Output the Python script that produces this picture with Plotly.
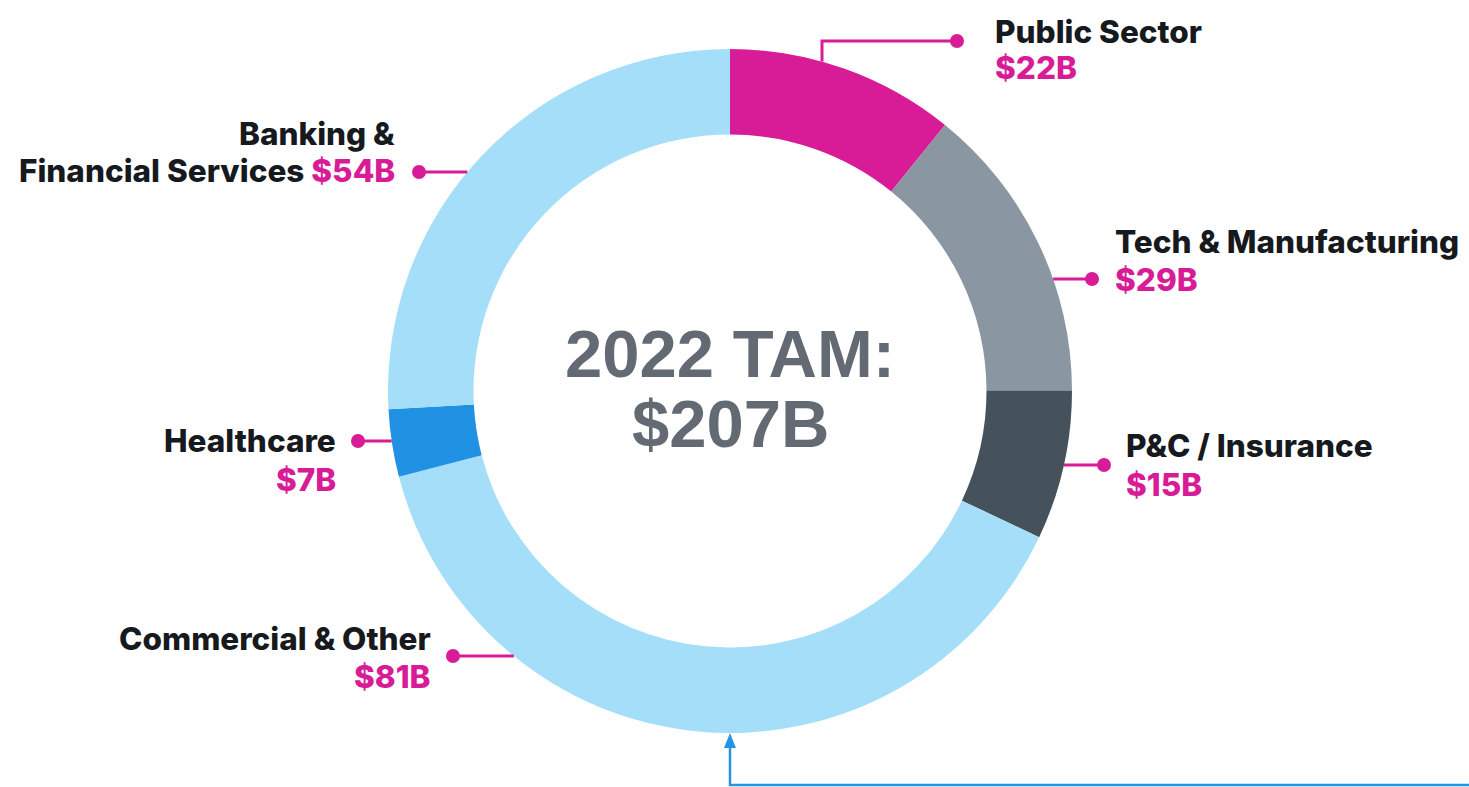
import plotly.graph_objects as go
import math

# ---- data ----
segments = ["Public Sector", "Tech & Manufacturing", "P&C / Insurance",
            "Commercial & Other", "Healthcare", "Banking & Financial Services"]
values = [22.4, 29.3, 14.6, 80.6, 6.6, 53.5]   # $B (slice sizes)
value_labels = ["$22B", "$29B", "$15B", "$81B", "$7B", "$54B"]
colors = ["#D81B96", "#8A96A2", "#46525B", "#A4DEF9", "#2191E3", "#A4DEF9"]
center_title = "2022 TAM:"
center_value = "$207B"

W, H = 1469, 787
MAGENTA = "#D81B96"
TEXT = "#16191D"
CENTER = "#646A73"
BLUE = "#2594E3"
FS = 31.5
LABEL_FONT = dict(family="Inter, Roboto, sans-serif", size=FS, color=TEXT, weight=800)
VALUE_FONT = dict(family="Inter, Roboto, sans-serif", size=FS, color=MAGENTA, weight=800)

# donut geometry (pixels)
CX, CY, R = 730, 391, 342
HOLE = 0.75

def px(x):
    return x / W

def py(y):
    return 1 - y / H

fig = go.Figure()
fig.add_trace(go.Pie(
    labels=segments, values=values, sort=False, direction="clockwise",
    rotation=0, hole=HOLE, textinfo="none", hoverinfo="label+value",
    marker=dict(colors=colors, line=dict(width=0)),
    domain=dict(x=[px(CX - R), px(CX + R)], y=[py(CY + R), py(CY - R)]),
    showlegend=False,
))

shapes = []
annotations = []

def ring_x(y, side):
    return CX + side * math.sqrt(R * R - (y - CY) ** 2)

def dot(x, y, r=7):
    shapes.append(dict(type="circle", xref="paper", yref="paper",
                       x0=px(x - r), x1=px(x + r), y0=py(y + r), y1=py(y - r),
                       fillcolor=MAGENTA, line=dict(width=0)))

def hline(x0, x1, y):
    shapes.append(dict(type="line", xref="paper", yref="paper",
                       x0=px(x0), x1=px(x1), y0=py(y), y1=py(y),
                       line=dict(color=MAGENTA, width=3)))

def line_text(x, baseline, text, align, font):
    annotations.append(dict(
        xref="paper", yref="paper", x=px(x), y=py(baseline - 0.37 * FS),
        xanchor="left" if align == "left" else "right", yanchor="middle",
        align=align, showarrow=False, text=text, font=font,
    ))

def label(x, b1, b2, name, val, align):
    line_text(x, b1, name, align, LABEL_FONT)
    line_text(x, b2, val, align, VALUE_FONT)

# Public Sector (elbow leader)
xv = 822
yedge = CY - math.sqrt(R * R - (xv - CX) ** 2)
shapes.append(dict(type="path", xref="paper", yref="paper",
                   path="M %f,%f L %f,%f L %f,%f" % (px(xv), py(yedge), px(xv), py(41), px(957), py(41)),
                   line=dict(color=MAGENTA, width=3)))
dot(957, 41)
label(993, 43, 79, segments[0], value_labels[0], "left")

# Tech & Manufacturing
hline(ring_x(279, 1), 1092, 279)
dot(1092, 279)
label(1113, 253, 291, segments[1], value_labels[1], "left")

# P&C / Insurance
hline(ring_x(465, 1), 1104, 465)
dot(1104, 465)
label(1124, 457, 496, segments[2], value_labels[2], "left")

# Commercial & Other
hline(453, ring_x(656, -1), 656)
dot(453, 656)
label(433, 650, 688, segments[3], value_labels[3], "right")

# Healthcare
hline(358, ring_x(441, -1), 441)
dot(358, 441)
label(338, 452, 491, segments[4], value_labels[4], "right")

# Banking & Financial Services
hline(419, ring_x(172, -1), 172)
dot(419, 172)
line_text(397, 145, "Banking &", "right", LABEL_FONT)
line_text(397, 182, "Financial Services <span style='color:%s'>%s</span>"
          % (MAGENTA, value_labels[5]), "right", LABEL_FONT)

# center text
for txt, ymid in [(center_title, 353), (center_value, 424)]:
    annotations.append(dict(
        xref="paper", yref="paper", x=px(CX), y=py(ymid), xanchor="center", yanchor="middle",
        showarrow=False, text="<b>%s</b>" % txt,
        font=dict(family="Liberation Sans, Arial, sans-serif", size=67, color=CENTER),
    ))

# blue arrow from bottom right to the donut
shapes.append(dict(type="path", xref="paper", yref="paper",
                   path="M %f,%f L %f,%f L %f,%f" % (px(W + 2), py(785), px(CX), py(785), px(CX), py(747)),
                   line=dict(color=BLUE, width=2.5)))
shapes.append(dict(type="path", xref="paper", yref="paper",
                   path="M %f,%f L %f,%f L %f,%f Z" % (px(CX - 6), py(748), px(CX + 6), py(748), px(CX), py(733)),
                   fillcolor=BLUE, line=dict(width=0)))

fig.update_layout(
    width=W, height=H, margin=dict(l=0, r=0, t=0, b=0),
    paper_bgcolor="white", plot_bgcolor="white",
    shapes=shapes, annotations=annotations,
)

fig.write_html("out.html", config={"displayModeBar": False},
               post_script="document.body.style.margin='0';document.body.style.overflow='hidden';")
